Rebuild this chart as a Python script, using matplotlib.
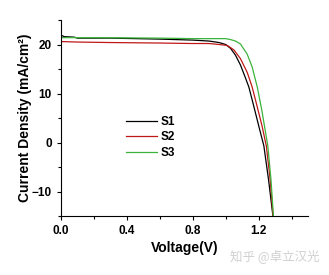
import matplotlib
matplotlib.use("Agg")
import matplotlib.pyplot as plt
from matplotlib.ticker import MultipleLocator, FormatStrFormatter

# J-V curves (V in volts, J in mA/cm^2)
v_s1 = [0.0, 0.02, 0.08, 0.1, 0.3, 0.6, 0.8, 0.9, 0.96, 1.0, 1.03, 1.06, 1.09, 1.12, 1.141,
        1.17, 1.2, 1.232, 1.26, 1.287]
j_s1 = [21.9, 21.6, 21.5, 21.3, 21.3, 21.1, 20.9, 20.7, 20.4, 20.0, 19.2, 17.8, 15.8, 13.2, 11.3,
        7.5, 3.5, -0.7, -7.5, -15.0]

v_s2 = [0.0, 0.1, 0.3, 0.6, 0.8, 0.9, 0.96, 1.01, 1.05, 1.09, 1.131, 1.161, 1.19, 1.22,
        1.247, 1.27, 1.288]
j_s2 = [20.6, 20.5, 20.4, 20.3, 20.2, 20.2, 20.0, 19.8, 18.9, 17.1, 14.3, 11.3, 7.5, 3.5,
        -0.7, -7.5, -15.0]

v_s3 = [0.0, 0.2, 0.6, 0.8, 0.9, 1.0, 1.03, 1.06, 1.09, 1.131, 1.161, 1.192, 1.22, 1.256,
        1.275, 1.29]
j_s3 = [21.4, 21.4, 21.3, 21.2, 21.2, 21.2, 21.0, 20.7, 20.1, 18.0, 15.4, 11.3, 6.5, -0.7,
        -7.5, -15.0]

labels = ["S1", "S2", "S3"]
colors = ["#000000", "#c01818", "#3cb43c"]

plt.rcParams["font.family"] = ["Liberation Sans", "DejaVu Sans"]

fig = plt.figure(figsize=(3.29, 2.75), dpi=100)
ax = fig.add_axes([61 / 329, 59 / 275, 247 / 329, 196 / 275])

for v, j, lab, c in zip([v_s1, v_s2, v_s3], [j_s1, j_s2, j_s3], labels, colors):
    ax.plot(v, j, color=c, lw=0.9, label=lab)

ax.set_xlim(0, 1.5)
ax.set_ylim(-15, 25)
ax.xaxis.set_major_locator(MultipleLocator(0.4))
ax.xaxis.set_minor_locator(MultipleLocator(0.2))
ax.xaxis.set_major_formatter(FormatStrFormatter("%.1f"))
ax.yaxis.set_major_locator(MultipleLocator(10))
ax.yaxis.set_minor_locator(MultipleLocator(5))
ax.spines["top"].set_visible(False)
ax.spines["right"].set_visible(False)
ax.tick_params(which="both", direction="out", width=0.8, labelsize=8.5)
ax.tick_params(which="major", length=3)
ax.tick_params(which="minor", length=2)
for t in ax.get_xticklabels() + ax.get_yticklabels():
    t.set_fontweight("bold")

ax.set_xlabel("Voltage(V)", fontsize=10, fontweight="bold", labelpad=3)
ax.set_ylabel("Current Density (mA/cm²)", fontsize=10, fontweight="bold", labelpad=0)

ax.legend(loc="upper left", bbox_to_anchor=(0.22, 0.565), frameon=False,
          prop={"weight": "bold", "size": 8.5}, handlelength=2.6,
          handletextpad=0.3, labelspacing=0.3)

fig.text(0.97, 0.07, "知乎 @卓立汉光", ha="right", va="center", fontsize=9,
         color="#d0d0d0", family=["Noto Sans CJK SC", "DejaVu Sans"])

fig.savefig("out.png", dpi=100)
